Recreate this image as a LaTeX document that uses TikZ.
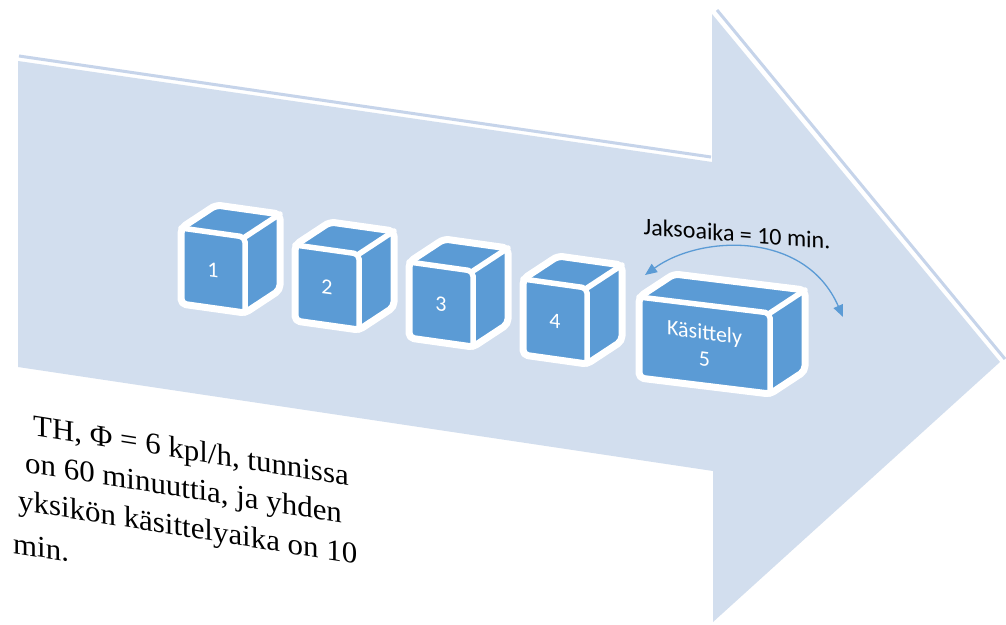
\documentclass[tikz,border=0pt]{standalone}
\usepackage{fontspec}
\newfontfamily\bodyserif{Liberation Serif}
\newfontfamily\labelsans{Carlito}
\usetikzlibrary{calc,arrows.meta}
\definecolor{flowfill}{RGB}{210,222,238}
\definecolor{flowrimc}{RGB}{198,212,234}
\definecolor{cubeblue}{RGB}{91,155,213}

% depth vector of every box (screen units, y grows downwards)
\def\cubedx{35}
\def\cubedy{-23}

% #1,#2 front top-left corner, #3 width, #4 height, #5 skew of the top edge, #6 name
\newcommand\drawbox[6]{%
  \coordinate (#6-a) at (#1,#2);
  \coordinate (#6-b) at (#1+#3,#2+#5);
  \coordinate (#6-c) at (#1+#3,#2+#5+#4);
  \coordinate (#6-d) at (#1,#2+#4);
  \coordinate (#6-m) at ($(#6-a)!0.5!(#6-c)$);
  \path[cubeface] (#6-a) -- ++(\cubedx,\cubedy)
     -- ($(#6-b)+(\cubedx,\cubedy)$) -- ($(#6-c)+(\cubedx,\cubedy)$)
     -- (#6-c) -- (#6-d) -- cycle;
  \draw[cubeedge] (#6-a) -- (#6-b) -- (#6-c);
  \draw[cubeedge] (#6-b) -- ++(\cubedx,\cubedy);
}

\begin{document}
\begin{tikzpicture}[x=1pt,y=-1pt,
  flow/.style={fill=flowfill, draw=none},
  flowrim/.style={draw=flowrimc, line width=3pt},
  cubeface/.style={fill=cubeblue, draw=white, line width=7pt, rounded corners=5pt, line join=round},
  cubeedge/.style={draw=white, line width=5.5pt, rounded corners=5pt, line cap=round},
  cubelabel/.style={text=white, font=\labelsans\fontsize{22}{27}\selectfont, yslant=-0.13, align=center, inner sep=0},
  spanarrow/.style={draw=cubeblue, line width=1.3pt,
     {Triangle[length=12pt,width=10pt]}-{Triangle[length=12pt,width=10pt]}},
  note/.style={font=\bodyserif\fontsize{30}{36}\selectfont, anchor=base west, xscale=1.03, yslant=-0.165, inner sep=0},
  spanlabel/.style={font=\labelsans\fontsize{24}{28}\selectfont, anchor=base, yslant=-0.079, inner sep=0}]

\useasboundingbox[fill=white] (0,0) rectangle (1006,624);

% big process arrow
\coordinate (f1) at (18,61);
\coordinate (f2) at (712,162);
\coordinate (f3) at (712,14);
\coordinate (f4) at (1000,362);
\coordinate (f5) at (713,622);
\coordinate (f6) at (713,471);
\coordinate (f7) at (18,367);
\path[flow] (f1) -- (f2) -- (f3) -- (f4) -- (f5) -- (f6) -- (f7) -- cycle;

% bevel rims along the upper edges
\coordinate (r1) at (19,56);
\coordinate (r2) at (711,157);
\coordinate (r3) at (717,10);
\coordinate (r4) at (1005,359);
\draw[flowrim] (r1) -- (r2);
\draw[flowrim] (r3) -- (r4);

% work units
\drawbox{181}{228}{64}{76}{9}{c1}
\drawbox{295}{245}{64}{76}{9}{c2}
\drawbox{409}{262}{64}{76}{9}{c3}
\drawbox{523}{279}{64}{76}{9}{c4}
\drawbox{639}{297}{131}{81}{16}{c5}

\node[cubelabel] (l1) at (c1-m) {1};
\node[cubelabel] (l2) at (c2-m) {2};
\node[cubelabel] (l3) at (c3-m) {3};
\node[cubelabel] (l4) at (c4-m) {4};
\node[cubelabel] (l5) at (c5-m) {Käsittely\\5};

% cycle time span
\coordinate (s1) at (645,275);
\coordinate (s2) at (843,317);
\draw[spanarrow] (s1) .. controls (700,235) and (805,230) .. (s2);
\node[spanlabel] (span) at (737,242) {Jaksoaika = 10 min.};

% throughput note
\node[note] (n1) at (33,435) {TH, Φ = 6 kpl/h, tunnissa};
\node[note] (n2) at (25,472) {on 60 minuuttia, ja yhden};
\node[note] (n3) at (18,510) {yksikön käsittelyaika on 10};
\node[note] (n4) at (13,553) {min.};
\end{tikzpicture}
\end{document}
